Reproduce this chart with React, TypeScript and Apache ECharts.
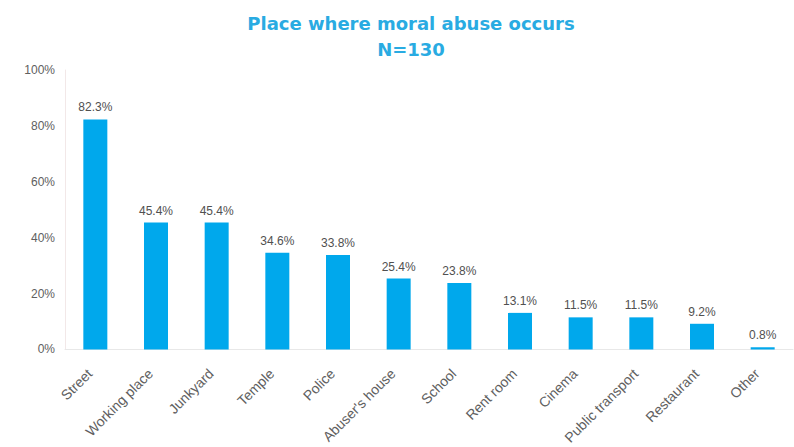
import React, { useEffect, useRef } from "react";
import * as echarts from "echarts";

const categories = [
  "Street",
  "Working place",
  "Junkyard",
  "Temple",
  "Police",
  "Abuser's house",
  "School",
  "Rent room",
  "Cinema",
  "Public transport",
  "Restaurant",
  "Other",
];
const values = [82.3, 45.4, 45.4, 34.6, 33.8, 25.4, 23.8, 13.1, 11.5, 11.5, 9.2, 0.8];
const titleLines = ["Place where moral abuse occurs", "N=130"];

const FONT = "Liberation Sans, Arial, sans-serif";

export default function App() {
  const ref = useRef<HTMLDivElement>(null);
  useEffect(() => {
    if (!ref.current) return;
    const chart = echarts.init(ref.current, null, { renderer: "svg" });
    chart.setOption({
      animation: false,
      backgroundColor: "#ffffff",
      title: {
        text: titleLines.join("\n"),
        left: 406,
        textAlign: "center",
        top: 5,
        textStyle: {
          color: "#29ABE2",
          fontSize: 18,
          fontWeight: "bold",
          fontFamily: "DejaVu Sans, Verdana, sans-serif",
          lineHeight: 26,
        },
      },
      grid: { left: 65, right: 1, top: 70, bottom: 97, containLabel: false },
      xAxis: {
        type: "category",
        data: categories,
        axisLine: { show: true, lineStyle: { color: "#e8e8e8" } },
        axisTick: { show: false },
        axisLabel: {
          rotate: 45,
          interval: 0,
          color: "#606060",
          fontSize: 14,
          margin: 16,
          padding: [0, 8, 0, 0],
          fontFamily: FONT,
        },
      },
      yAxis: {
        type: "value",
        min: 0,
        max: 100,
        interval: 20,
        axisLine: { show: true, lineStyle: { color: "#f2e8e8" } },
        splitLine: { show: false },
        axisLabel: {
          formatter: "{value}%",
          color: "#606060",
          fontSize: 12,
          margin: 10,
          fontFamily: FONT,
        },
      },
      series: [
        {
          type: "bar",
          data: values,
          barWidth: 24,
          itemStyle: { color: "#00A8EC" },
          label: {
            show: true,
            position: "top",
            distance: 6,
            formatter: (p: any) => `${p.value.toFixed(1)}%`,
            color: "#505050",
            fontSize: 12,
            fontFamily: FONT,
          },
        },
      ],
    });
    return () => chart.dispose();
  }, []);
  return <div ref={ref} style={{ width: 794, height: 447, position: "absolute", left: 0, top: 0 }} />;
}
